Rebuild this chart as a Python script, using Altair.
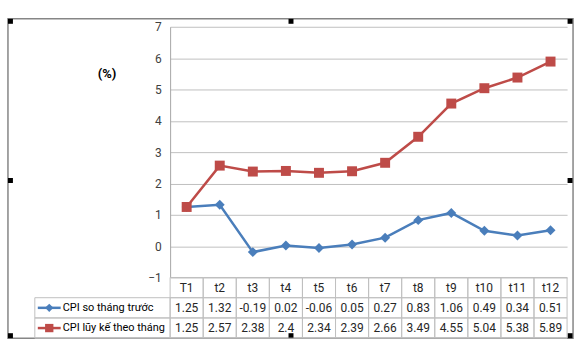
import altair as alt
import pandas as pd

months = ["T1", "t2", "t3", "t4", "t5", "t6", "t7", "t8", "t9", "t10", "t11", "t12"]
cpi_mom = [1.25, 1.32, -0.19, 0.02, -0.06, 0.05, 0.27, 0.83, 1.06, 0.49, 0.34, 0.51]
cpi_cum = [1.25, 2.57, 2.38, 2.4, 2.34, 2.39, 2.66, 3.49, 4.55, 5.04, 5.38, 5.89]
series = ["CPI so tháng trước", "CPI lũy kế theo tháng"]
colors = ["#4a7ebb", "#be4b48"]
shapes = ["diamond", "square"]
y_ticks = [-1, 0, 1, 2, 3, 4, 5, 6, 7]
row_keys = ["hdr"] + series

FONT = "Roboto"
GRID = "#c0c0c0"

line_df = pd.DataFrame({
    "month": months * 2,
    "series": [series[0]] * len(months) + [series[1]] * len(months),
    "value": cpi_mom + cpi_cum,
})

table_rows = []
for i, m in enumerate(months):
    table_rows.append({"month": m, "row": "hdr", "label": m})
    table_rows.append({"month": m, "row": series[0], "label": str(cpi_mom[i])})
    table_rows.append({"month": m, "row": series[1], "label": str(cpi_cum[i])})
table_df = pd.DataFrame(table_rows)
legend_df = pd.DataFrame({"row": series})

color = alt.Color("series:N", scale=alt.Scale(domain=series, range=colors), legend=None)
shape = alt.Shape("series:N", scale=alt.Scale(domain=series, range=shapes), legend=None)

x_top = alt.X("month:N", sort=months, scale=alt.Scale(domain=months, padding=0.5), axis=None)
y_top = alt.Y(
    "value:Q",
    scale=alt.Scale(domain=[-1, 7], nice=False, zero=False),
    axis=alt.Axis(
        values=y_ticks, title="(%)", titleAngle=0, titleX=-64, titleY=47,
        titleAlign="center", titleBaseline="middle", titleFontWeight="bold",
        titleFontSize=13, titleFont=FONT, titleColor="#000000",
        grid=True, gridColor=GRID, domainColor="#a6a6a6", ticks=False,
        labelPadding=9, labelFontSize=12, labelFont=FONT, labelColor="#404040",
    ),
)

base = alt.Chart(line_df)
lines = base.mark_line(strokeWidth=2.5).encode(x=x_top, y=y_top, color=color)
points = base.mark_point(filled=True, opacity=1, size=100).encode(
    x=x_top, y=y_top, color=color, shape=shape
)

one = pd.DataFrame({"k": [0]})
frame = alt.Chart(one).mark_rect(fillOpacity=0, stroke="#868686", strokeWidth=1.5).encode(
    x=alt.value(-163), x2=alt.value(405), y=alt.value(-8), y2=alt.value(313)
)
handle_pos = [(-160.5, -5.5), (121.5, -5.5), (402, -5.5), (-160.5, 154.5),
              (402, 154.5), (-160.5, 310.5), (121.5, 310.5), (402, 310.5)]
handles = [
    alt.Chart(one).mark_square(size=25, color="black", opacity=1).encode(
        x=alt.value(hx), y=alt.value(hy)
    )
    for hx, hy in handle_pos
]

top = alt.layer(frame, lines, points, *handles).properties(width=399, height=252)

x_tab = alt.X("month:N", sort=months, scale=alt.Scale(domain=months, paddingInner=0, paddingOuter=0), axis=None)
y_tab = alt.Y("row:N", sort=row_keys, scale=alt.Scale(domain=row_keys, paddingInner=0, paddingOuter=0), axis=None)

tbase = alt.Chart(table_df)
cells = tbase.mark_rect(fillOpacity=0, stroke=GRID, strokeWidth=1).encode(x=x_tab, y=y_tab)
texts = tbase.mark_text(font=FONT, fontSize=12, color="#262626").encode(x=x_tab, y=y_tab, text="label:N")

lbase = alt.Chart(legend_df)
lcolor = alt.Color("row:N", scale=alt.Scale(domain=series, range=colors), legend=None)
lshape = alt.Shape("row:N", scale=alt.Scale(domain=series, range=shapes), legend=None)
lcells = lbase.mark_rect(fillOpacity=0, stroke=GRID, strokeWidth=1).encode(
    x=alt.value(-136), x2=alt.value(0), y=y_tab
)
lrules = lbase.mark_rule(strokeWidth=2.5).encode(
    x=alt.value(-133), x2=alt.value(-110), y=y_tab, color=lcolor
)
lpoints = lbase.mark_point(filled=True, opacity=1, size=70).encode(
    x=alt.value(-121.5), y=y_tab, color=lcolor, shape=lshape
)
ltext = lbase.mark_text(align="left", font=FONT, fontSize=11, color="#000000").encode(
    x=alt.value(-108), y=y_tab, text="row:N"
)

bottom = alt.layer(cells, texts, lcells, lrules, lpoints, ltext).properties(width=399, height=61)

chart = alt.vconcat(top, bottom, spacing=0, bounds="flush").resolve_scale(
    x="independent", y="independent", color="independent", shape="independent"
).properties(
    padding={"left": 6, "top": 16, "right": 6, "bottom": 16},
    background="white",
).configure_view(stroke="transparent")

chart.save("out.html", embed_options={"renderer": "svg", "actions": False})
